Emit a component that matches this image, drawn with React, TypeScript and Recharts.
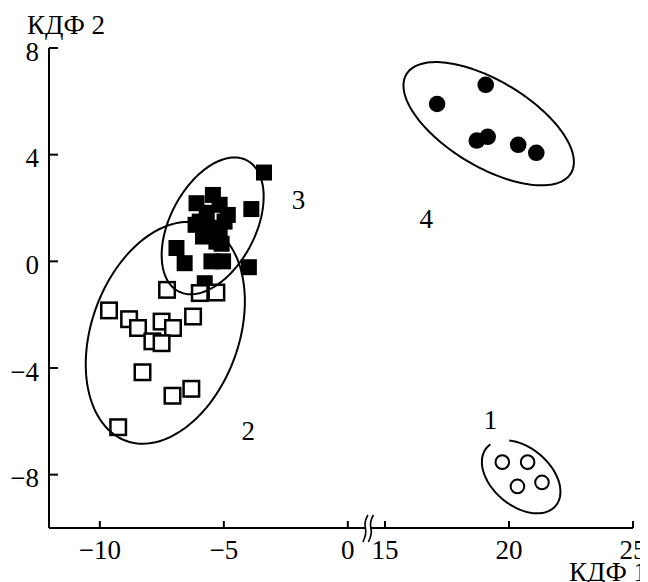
import React from 'react';
import { ScatterChart, Scatter, XAxis, YAxis } from 'recharts';

const FONT = "'Liberation Serif', 'Times New Roman', 'DejaVu Serif', serif";
const FS = 27;

// Broken x axis: the 15..25 segment is shifted left so it sits just after 0.
const BREAK_SHIFT = 13.5;
const toAxisX = (x: number) => (x >= 10 ? x - BREAK_SHIFT : x);
const BREAK_AT = 0.83; // axis-unit position of the "//" break mark

const X_DOMAIN: [number, number] = [-12.05, 11.5];
const Y_DOMAIN: [number, number] = [-10, 8];
const X_TICK_VALUES = [-10, -5, 0, 15, 20, 25];
const X_TICK_LABELS = ['−10', '−5', '0', '15', '20', '25'];
const Y_TICK_VALUES = [-8, -4, 0, 4, 8];
const Y_TICK_LABELS = ['−8', '−4', '0', '4', '8'];

// Group 1: open circles
const G1_X = [19.73, 20.75, 20.34, 21.33];
const G1_Y = [-7.53, -7.53, -8.44, -8.29];

// Group 2: open squares
const G2_X = [-7.29, -5.97, -5.3, -9.63, -8.82, -8.46, -7.51, -7.05, -6.24, -7.88, -7.51, -8.28, -7.07, -6.31, -9.26];
const G2_Y = [-1.07, -1.19, -1.17, -1.84, -2.17, -2.5, -2.26, -2.5, -2.07, -3.0, -3.07, -4.16, -5.04, -4.78, -6.22];

// Group 3: filled squares
const G3_X = [-6.1, -5.44, -5.17, -4.97, -5.97, -5.69, -5.84, -5.17, -5.3, -5.57, -6.91, -6.58, -5.5, -5.03, -3.99, -5.77, -3.38, -3.89, -4.84, -6.14, -5.09];
const G3_Y = [2.18, 2.49, 2.12, 1.49, 1.49, 1.82, 0.93, 1.06, 0.74, 1.26, 0.5, -0.07, 0.0, 0.0, -0.22, -0.82, 3.33, 1.96, 1.74, 1.37, 0.66];

// Group 4: filled circles
const G4_X = [17.1, 19.06, 18.7, 19.14, 20.37, 21.1];
const G4_Y = [5.9, 6.62, 4.53, 4.67, 4.37, 4.07];

// Group number labels
const LABEL_TEXT = ['1', '2', '3', '4'];
const LABEL_X = [19.25, -4.02, -1.99, 16.66];
const LABEL_Y = [-5.94, -6.37, 2.29, 1.57];

// Confidence ellipses (center, semi-axes in y-units, rotation in degrees, drawn arc range)
const ELL_CX = [20.49, -7.36, -5.45, 19.18];
const ELL_CY = [-8.08, -2.68, 1.33, 5.16];
const ELL_A = [1.69, 4.31, 2.77, 3.6];
const ELL_B = [1.09, 2.76, 1.6, 1.61];
const ELL_ANGLE = [-40, 70, 62.4, -31];
const ELL_T0 = [170, 0, 0, 0];
const ELL_T1 = [496, 360, 360, 360];

const ASPECT = 26.67 / 24.8; // x axis units per y axis unit at equal screen length

const zip = (xs: number[], ys: number[]) => xs.map((x, i) => ({ x: toAxisX(x), y: ys[i] }));

const ellipse = (i: number) => {
  const th = (ELL_ANGLE[i] * Math.PI) / 180;
  const n = 160;
  const pts: { x: number; y: number }[] = [];
  for (let k = 0; k <= n; k++) {
    const t = ((ELL_T0[i] + ((ELL_T1[i] - ELL_T0[i]) * k) / n) * Math.PI) / 180;
    const u = ELL_A[i] * Math.cos(t);
    const v = ELL_B[i] * Math.sin(t);
    const dx = u * Math.cos(th) - v * Math.sin(th);
    const dy = u * Math.sin(th) + v * Math.cos(th);
    pts.push({ x: toAxisX(ELL_CX[i]) + dx * ASPECT, y: ELL_CY[i] + dy });
  }
  return pts;
};

const g1 = zip(G1_X, G1_Y);
const g2 = zip(G2_X, G2_Y);
const g3 = zip(G3_X, G3_Y);
const g4 = zip(G4_X, G4_Y);
const labels = LABEL_TEXT.map((t, i) => ({ x: toAxisX(LABEL_X[i]), y: LABEL_Y[i], text: t }));
const breakMark = [{ x: BREAK_AT, y: Y_DOMAIN[0] }];
const X_TICK_POS = X_TICK_VALUES.map(toAxisX);

const Nothing = () => <g />;

const FilledSquare = (p: any) => <rect x={p.cx - 8} y={p.cy - 8} width={16} height={16} fill="#000" />;
const OpenSquare = (p: any) => (
  <rect x={p.cx - 7.75} y={p.cy - 7.75} width={15.5} height={15.5} fill="#fff" stroke="#000" strokeWidth={2.5} />
);
const FilledCircle = (p: any) => <circle cx={p.cx} cy={p.cy} r={8.3} fill="#000" />;
const OpenCircle = (p: any) => <circle cx={p.cx} cy={p.cy} r={6.8} fill="#fff" stroke="#000" strokeWidth={2} />;
const GroupLabel = (p: any) => (
  <text x={p.cx} y={p.cy + 9} textAnchor="middle" fontFamily={FONT} fontSize={FS} fill="#000">
    {p.payload.text}
  </text>
);
const BreakShape = (p: any) => (
  <g>
    <rect x={p.cx - 2.5} y={p.cy - 2} width={4} height={4} fill="#fff" />
    <path d="M -5.5 14 Q -1.5 6 -3 0 Q -4.5 -6 -0.5 -13" transform={`translate(${p.cx},${p.cy})`} fill="none" stroke="#000" strokeWidth={1.6} />
    <path d="M 0 14 Q 4 6 2.5 0 Q 1 -6 5 -13" transform={`translate(${p.cx},${p.cy})`} fill="none" stroke="#000" strokeWidth={1.6} />
  </g>
);

const XTick = (p: any) => {
  const idx = X_TICK_POS.findIndex((v) => Math.abs(v - p.payload.value) < 1e-6);
  return (
    <g>
      <line x1={p.x} y1={p.y} x2={p.x} y2={p.y - 7} stroke="#000" strokeWidth={2} />
      <text x={p.x} y={p.y + 31} textAnchor="middle" fontFamily={FONT} fontSize={FS} fill="#000">
        {X_TICK_LABELS[idx]}
      </text>
    </g>
  );
};

const YTick = (p: any) => {
  const idx = Y_TICK_VALUES.findIndex((v) => Math.abs(v - p.payload.value) < 1e-6);
  return (
    <g>
      <line x1={p.x} y1={p.y} x2={p.x + 9} y2={p.y} stroke="#000" strokeWidth={2} />
      <text x={p.x - 10} y={p.y + 12.5} textAnchor="end" fontFamily={FONT} fontSize={FS} fill="#000">
        {Y_TICK_LABELS[idx]}
      </text>
    </g>
  );
};

const XTitle = () => (
  <text x={639} y={573} textAnchor="end" fontFamily={FONT} fontSize={FS} fill="#000">
    КДФ 1
  </text>
);
const YTitle = () => (
  <text x={19} y={26} textAnchor="start" fontFamily={FONT} fontSize={FS} fill="#000">
    КДФ 2
  </text>
);

export default function App() {
  return (
    <ScatterChart width={640} height={574} margin={{ top: 40, right: 15, bottom: 0, left: 0 }}>
      <XAxis
        type="number"
        dataKey="x"
        domain={X_DOMAIN}
        ticks={X_TICK_POS}
        interval={0}
        height={54}
        tickSize={0}
        tickMargin={0}
        tickLine={false}
        axisLine={{ stroke: '#000', strokeWidth: 2 }}
        tick={<XTick />}
        label={{ value: 'КДФ 1', content: XTitle }}
      />
      <YAxis
        type="number"
        dataKey="y"
        domain={Y_DOMAIN}
        ticks={Y_TICK_VALUES}
        interval={0}
        width={41}
        tickSize={0}
        tickMargin={0}
        tickLine={false}
        axisLine={{ stroke: '#000', strokeWidth: 2 }}
        tick={<YTick />}
        label={{ value: 'КДФ 2', content: YTitle }}
      />
      <Scatter data={g3} shape={FilledSquare} isAnimationActive={false} />
      <Scatter data={g2} shape={OpenSquare} isAnimationActive={false} />
      <Scatter data={g4} shape={FilledCircle} isAnimationActive={false} />
      <Scatter data={g1} shape={OpenCircle} isAnimationActive={false} />
      {ELL_CX.map((_, i) => (
        <Scatter
          key={`ell${i}`}
          data={ellipse(i)}
          line={{ stroke: '#000', strokeWidth: 2, fill: 'none' }}
          lineType="joint"
          shape={Nothing}
          isAnimationActive={false}
        />
      ))}
      <Scatter data={labels} shape={GroupLabel} isAnimationActive={false} />
      <Scatter data={breakMark} shape={BreakShape} isAnimationActive={false} />
    </ScatterChart>
  );
}
